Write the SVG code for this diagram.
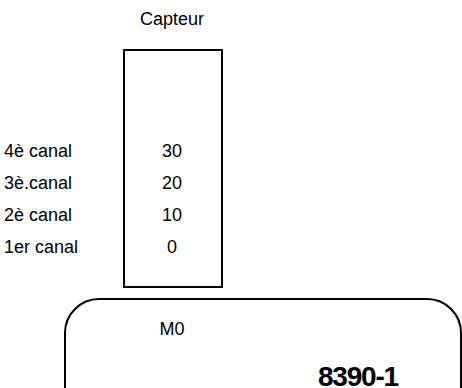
<svg xmlns="http://www.w3.org/2000/svg" width="462" height="388" viewBox="0 0 462 388">
<style>
text{font-family:"Liberation Sans",Arial,Helvetica,sans-serif;font-size:18px;fill:#000}
.c{text-anchor:middle}
.b{font-weight:bold;font-size:28px;letter-spacing:-1.2px}
.s{fill:none;stroke:#000;stroke-width:2}
</style>
<rect width="462" height="388" fill="#fff"/>
<g id="capteur">
<text class="c" x="172" y="25">Capteur</text>
<rect class="s" x="124" y="50" width="98" height="237"/>
<text class="c" x="172" y="157">30</text>
<text class="c" x="172" y="189">20</text>
<text class="c" x="172" y="221">10</text>
<text class="c" x="172" y="253">0</text>
</g>
<g id="labels">
<text x="4" y="157">4è canal</text>
<text x="4" y="189">3è.canal</text>
<text x="4" y="221">2è canal</text>
<text x="4" y="253">1er canal</text>
</g>
<g id="module">
<path class="s" d="M65,388 V333 A34,34 0 0 1 99,299 H427 A34,34 0 0 1 461,333 V388"/>
<text class="c" x="172" y="335">M0</text>
<text class="b c" x="358" y="386">8390-1</text>
</g>
<g id="connectors"/>
</svg>
